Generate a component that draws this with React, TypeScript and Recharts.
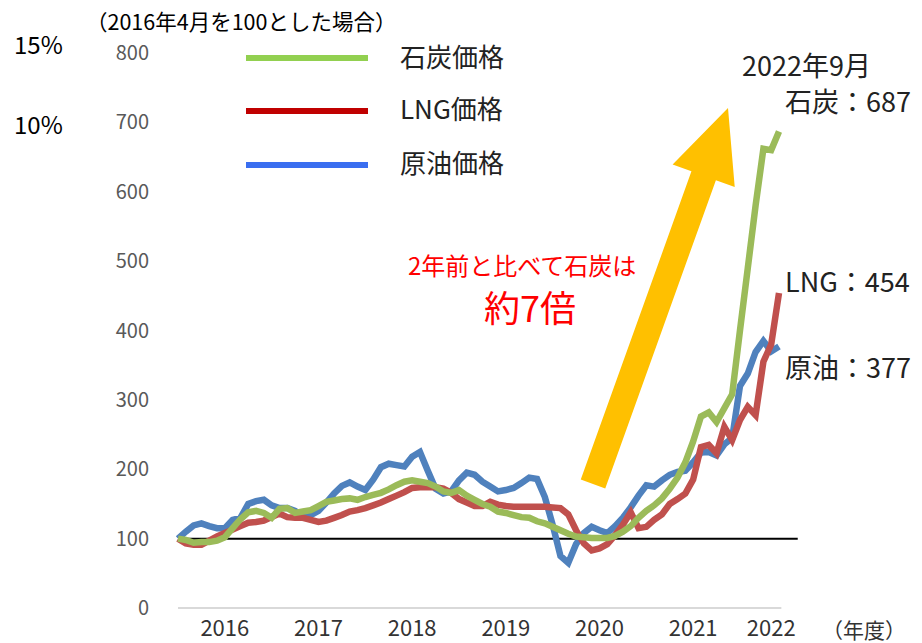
import { LineChart, Line, XAxis, YAxis, ReferenceLine } from 'recharts'

// 2016年4月〜2022年9月 の月次指数（2016年4月 = 100）
const startYear = 2016
const startMonth = 4

const coal = [
  100, 98, 94, 95, 95, 97, 102, 115, 128, 138, 140, 137,
  130, 143, 144, 137, 139, 141, 147, 153, 155, 157, 158, 156,
  160, 163, 166, 171, 177, 182, 184, 182, 180, 175, 168, 166,
  170, 162, 156, 150, 146, 139, 137, 134, 131, 130, 125, 122,
  117, 112, 107, 103, 102, 101, 101, 101, 104, 110, 118, 130,
  140, 148, 158, 172, 188, 210, 240, 276, 282, 268, 288, 308,
  400, 490, 580, 662, 660, 687,
]

const lng = [
  100, 93, 91, 91, 97, 103, 108, 113, 118, 123, 124, 126,
  131, 136, 131, 130, 130, 127, 124, 126, 130, 134, 139, 141,
  144, 148, 152, 157, 162, 167, 173, 174, 174, 174, 172, 166,
  157, 152, 147, 147, 153, 149, 147, 146, 146, 146, 146, 146,
  145, 144, 135, 112, 93, 83, 86, 92, 105, 120, 138, 115,
  117, 127, 135, 150, 157, 165, 185, 232, 235, 223, 261, 242,
  271, 290, 278, 355, 380, 454,
]

const crude = [
  100, 110, 119, 122, 118, 115, 115, 127, 130, 150, 154, 156,
  148, 144, 144, 140, 132, 134, 140, 152, 165, 176, 181, 175,
  170, 185, 203, 208, 206, 204, 218, 225, 198, 172, 165, 168,
  184, 195, 192, 182, 175, 168, 170, 173, 180, 188, 186, 160,
  120, 75, 65, 92, 108, 117, 112, 108, 118, 130, 145, 162,
  177, 175, 184, 192, 196, 198, 210, 224, 225, 220, 236, 245,
  320, 338, 369, 385, 370, 377,
]

const fiscalYears = ['2016', '2017', '2018', '2019', '2020', '2021', '2022']
const yearTickIndex = [6, 18, 30, 42, 54, 66, 76]
const yTicks = [0, 100, 200, 300, 400, 500, 600, 700, 800]

const data = coal.map((v, i) => {
  const m = startMonth - 1 + i
  return {
    i,
    month: `${startYear + Math.floor(m / 12)}-${String((m % 12) + 1).padStart(2, '0')}`,
    coal: v,
    lng: lng[i],
    crude: crude[i],
  }
})

const font = '"Noto Sans CJK JP", "Noto Sans", sans-serif'

function Arrow() {
  const base = [593, 484]
  const tip = [728, 108]
  const dx = tip[0] - base[0]
  const dy = tip[1] - base[1]
  const len = Math.hypot(dx, dy)
  const ux = dx / len
  const uy = dy / len
  const nx = -uy
  const ny = ux
  const headLen = 72
  const headW = 33
  const shaftW = 13
  const hx = tip[0] - ux * headLen
  const hy = tip[1] - uy * headLen
  const pts = [
    [base[0] + nx * shaftW, base[1] + ny * shaftW],
    [hx + nx * shaftW, hy + ny * shaftW],
    [hx + nx * headW, hy + ny * headW],
    tip,
    [hx - nx * headW, hy - ny * headW],
    [hx - nx * shaftW, hy - ny * shaftW],
    [base[0] - nx * shaftW, base[1] - ny * shaftW],
  ]
  return <polygon points={pts.map((p) => p.join(',')).join(' ')} fill="#FFC000" />
}

export default function App() {
  return (
    <div
      style={{
        position: 'absolute',
        left: 0,
        top: 0,
        width: 922,
        height: 643,
        background: '#fff',
        fontFamily: font,
      }}
    >
      <LineChart
        width={922}
        height={643}
        data={data}
        margin={{ top: 53, right: 143, bottom: 5, left: 0 }}
      >
        <XAxis
          dataKey="i"
          type="number"
          domain={[0, 77]}
          height={30}
          ticks={yearTickIndex}
          tickFormatter={(v: number) => fiscalYears[yearTickIndex.indexOf(v)]}
          axisLine={false}
          tickLine={false}
          tickSize={0}
          tickMargin={12}
          tick={{ fill: '#333', fontSize: 22, fontFamily: font }}
        />
        <YAxis
          width={178}
          domain={[0, 800]}
          ticks={yTicks}
          axisLine={false}
          tickLine={false}
          tickSize={0}
          tickMargin={29}
          tick={{ fill: '#595959', fontSize: 20, fontFamily: font }}
        />
        <ReferenceLine
          segment={[{ x: 0, y: 0 }, { x: 77.3, y: 0 }]}
          stroke="#D9D9D9"
          strokeWidth={2}
          ifOverflow="visible"
        />
        <ReferenceLine
          segment={[{ x: 0, y: 100 }, { x: 79.4, y: 100 }]}
          stroke="#000"
          strokeWidth={2}
          ifOverflow="visible"
        />
        <Line dataKey="crude" stroke="#4F81BD" strokeWidth={6.5} dot={false} isAnimationActive={false} />
        <Line dataKey="lng" stroke="#C0504D" strokeWidth={6.5} dot={false} isAnimationActive={false} />
        <Line dataKey="coal" stroke="#9BBB59" strokeWidth={6.5} dot={false} isAnimationActive={false} />
      </LineChart>

      <svg
        width={922}
        height={643}
        style={{ position: 'absolute', left: 0, top: 0, pointerEvents: 'none' }}
        fontFamily={font}
      >
        <Arrow />
        <text x={86} y={30} fontSize={21.5} fill="#000">（2016年4月を100とした場合）</text>
        <text x={14} y={54} fontSize={24} fill="#000">15%</text>
        <text x={14} y={134} fontSize={24} fill="#000">10%</text>

        <line x1={246} x2={368} y1={58} y2={58} stroke="#92D050" strokeWidth={6} />
        <line x1={246} x2={368} y1={111} y2={111} stroke="#C00000" strokeWidth={6} />
        <line x1={246} x2={368} y1={165} y2={165} stroke="#3A6EF0" strokeWidth={6} />
        <text x={400} y={67} fontSize={26} fill="#222">石炭価格</text>
        <text x={400} y={119} fontSize={26} fill="#222">LNG価格</text>
        <text x={400} y={173} fontSize={26} fill="#222">原油価格</text>

        <text x={742} y={76} fontSize={27} fill="#222">2022年9月</text>
        <text x={785} y={112} fontSize={27} fill="#222">石炭：687</text>
        <text x={785} y={292} fontSize={27} fill="#222">LNG：454</text>
        <text x={785} y={378} fontSize={27} fill="#222">原油：377</text>

        <text x={408} y={275} fontSize={24} fill="#FF0000">2年前と比べて石炭は</text>
        <text x={484} y={322} fontSize={36} fill="#FF0000">約7倍</text>

        <text x={822} y={638} fontSize={21} fill="#333">（年度）</text>
      </svg>
    </div>
  )
}
